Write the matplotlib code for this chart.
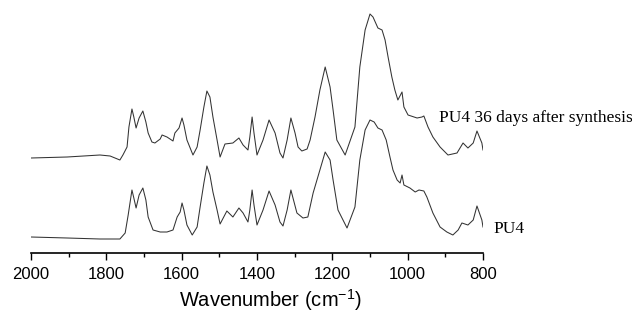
import numpy as np
import matplotlib
matplotlib.use("Agg")
import matplotlib.pyplot as plt
from matplotlib.ticker import MultipleLocator

plt.rcParams['mathtext.fontset'] = 'custom'
plt.rcParams['mathtext.rm'] = 'Liberation Sans'
plt.rcParams['mathtext.default'] = 'regular'

# spectrum after 36 days (absorbance, a.u., own baseline)
wn_aged = [2000, 1904, 1817, 1790, 1764, 1756, 1745, 1740, 1732, 1727, 1721, 1713,
           1703, 1695, 1689, 1679, 1671, 1657, 1652, 1639, 1623, 1618, 1607, 1599,
           1594, 1586, 1570, 1559, 1551, 1541, 1533, 1525, 1517, 1506, 1498, 1485,
           1464, 1448, 1437, 1424, 1419, 1413, 1408, 1400, 1384, 1368, 1352, 1339,
           1331, 1320, 1310, 1299, 1291, 1281, 1267, 1259, 1246, 1233, 1219, 1206,
           1198, 1188, 1166, 1140, 1127, 1113, 1100, 1092, 1079, 1068, 1060, 1052,
           1042, 1034, 1026, 1015, 1010, 999, 975, 962, 957, 946, 933, 914, 893,
           869, 853, 840, 826, 816, 803, 800]
abs_aged = [0.02, 0.03, 0.05, 0.04, 0.00, 0.05, 0.13, 0.33, 0.51, 0.43, 0.32, 0.42,
            0.49, 0.38, 0.27, 0.18, 0.17, 0.21, 0.25, 0.23, 0.19, 0.27, 0.32, 0.42,
            0.35, 0.20, 0.05, 0.13, 0.30, 0.53, 0.69, 0.63, 0.43, 0.20, 0.03, 0.16,
            0.17, 0.22, 0.15, 0.10, 0.23, 0.43, 0.27, 0.05, 0.20, 0.40, 0.27, 0.07,
            0.02, 0.20, 0.42, 0.27, 0.13, 0.09, 0.11, 0.20, 0.43, 0.70, 0.93, 0.73,
            0.50, 0.20, 0.05, 0.33, 0.93, 1.30, 1.46, 1.43, 1.32, 1.30, 1.20, 1.03,
            0.83, 0.70, 0.60, 0.68, 0.53, 0.45, 0.42, 0.43, 0.44, 0.33, 0.23, 0.13,
            0.05, 0.07, 0.17, 0.12, 0.17, 0.29, 0.17, 0.10]

# fresh PU4
wn_pu4 = [2000, 1904, 1817, 1764, 1750, 1742, 1732, 1727, 1721, 1713, 1703, 1695,
          1689, 1676, 1657, 1639, 1623, 1612, 1604, 1599, 1594, 1586, 1572, 1559,
          1551, 1541, 1533, 1525, 1517, 1506, 1498, 1480, 1464, 1448, 1437, 1424,
          1419, 1413, 1408, 1400, 1384, 1368, 1352, 1339, 1331, 1320, 1310, 1294,
          1278, 1265, 1251, 1233, 1219, 1206, 1198, 1185, 1161, 1140, 1127, 1113,
          1100, 1089, 1079, 1068, 1057, 1047, 1039, 1028, 1020, 1015, 1010, 994,
          980, 970, 957, 949, 933, 914, 896, 880, 866, 856, 840, 826, 816, 803, 800]
abs_pu4 = [0.02, 0.01, 0.00, 0.00, 0.06, 0.24, 0.49, 0.41, 0.31, 0.44, 0.51, 0.39,
           0.22, 0.09, 0.07, 0.07, 0.09, 0.22, 0.27, 0.36, 0.29, 0.14, 0.04, 0.12,
           0.32, 0.56, 0.73, 0.64, 0.47, 0.29, 0.15, 0.28, 0.22, 0.31, 0.26, 0.17,
           0.29, 0.49, 0.34, 0.14, 0.29, 0.48, 0.34, 0.17, 0.13, 0.29, 0.49, 0.26,
           0.21, 0.22, 0.46, 0.69, 0.87, 0.79, 0.59, 0.29, 0.11, 0.32, 0.79, 1.09,
           1.19, 1.17, 1.11, 1.09, 0.99, 0.82, 0.69, 0.59, 0.56, 0.64, 0.54, 0.51,
           0.47, 0.49, 0.48, 0.42, 0.26, 0.12, 0.07, 0.04, 0.09, 0.16, 0.14, 0.19,
           0.33, 0.19, 0.12]

offset = 0.79

fig = plt.figure(figsize=(6.32, 3.22), dpi=100)
ax = fig.add_axes([31/632, 69/322, 452/632, 253/322])

ax.plot(wn_aged, np.array(abs_aged) + offset, color='#333333', lw=0.75)
ax.plot(wn_pu4, abs_pu4, color='#333333', lw=0.75)

ax.set_xlim(2000, 800)
ax.set_ylim(-0.14, 2.39)

for s in ['top', 'left', 'right']:
    ax.spines[s].set_visible(False)
ax.spines['bottom'].set_linewidth(1.2)
ax.set_yticks([])
ax.xaxis.set_major_locator(MultipleLocator(200))
ax.xaxis.set_minor_locator(MultipleLocator(100))
ax.tick_params(axis='x', which='major', direction='out', length=5, width=1, pad=5)
ax.tick_params(axis='x', which='minor', direction='out', length=3, width=1)
for lab in ax.get_xticklabels():
    lab.set_fontfamily('Liberation Sans')
    lab.set_fontsize(12)

ax.set_xlabel('Wavenumber (cm$^{-1}$)', fontsize=14.5, family='Liberation Sans')
ax.xaxis.set_label_coords(0.529, -0.135)

ax.text(917, 1.17, 'PU4 36 days after synthesis', family='Liberation Serif',
        fontsize=12.5, va='baseline', ha='left', clip_on=False)
ax.text(773, 0.06, 'PU4', family='Liberation Serif',
        fontsize=12.5, va='baseline', ha='left', clip_on=False)

fig.savefig('out.png', dpi=100)
